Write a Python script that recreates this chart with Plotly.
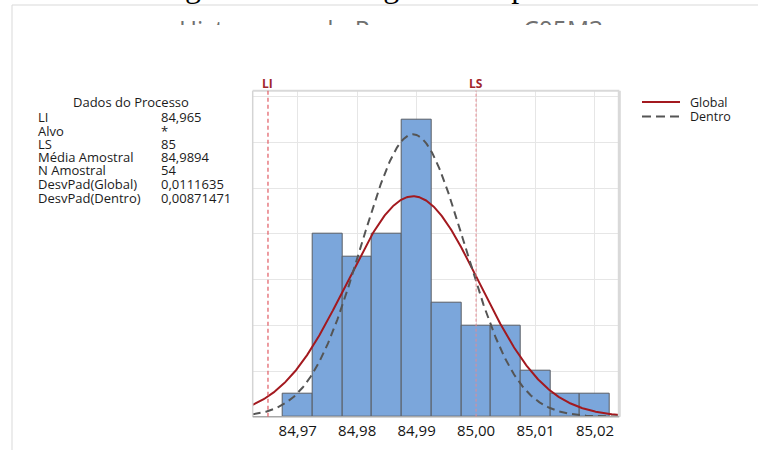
import numpy as np
import plotly.graph_objects as go

W, H = 758, 450

# Histogram of the process data (bin centres and counts)
bin_centers = [84.970, 84.975, 84.980, 84.985, 84.990, 84.995,
               85.000, 85.005, 85.010, 85.015, 85.020]
counts = [1, 8, 7, 8, 13, 5, 4, 4, 2, 1, 1]
bin_width = 0.005

# Specification limits and process statistics
li, ls = 84.965, 85.0
mean = 84.9894
sd_global = 0.0111635
sd_dentro = 0.00871471
n_samples = 54

stat_labels = ["LI", "Alvo", "LS", "Média Amostral", "N Amostral",
               "DesvPad(Global)", "DesvPad(Dentro)"]
stat_values = ["84,965", "*", "85", "84,9894", "54",
               "0,0111635", "0,00871471"]

x_ticks = [84.97, 84.98, 84.99, 85.00, 85.01, 85.02]
x_range = [84.96243, 85.02409]
y_max = 14.27

title_text = "Histograma do Processo para C05M3"
caption_text = "Figura 10 – Histograma do processo"

FONT = "Open Sans"
TEXT_COLOR = "#1b1b1b"
GLOBAL_COLOR = "#a3191f"
DENTRO_COLOR = "#555555"


def px(x):
    return x / W


def py(y):
    return 1 - y / H


def normal_curve(xs, mu, sigma):
    scale = n_samples * bin_width
    return scale * np.exp(-0.5 * ((xs - mu) / sigma) ** 2) / (sigma * np.sqrt(2 * np.pi))


xs = np.linspace(x_range[0], x_range[1], 500)

fig = go.Figure()

fig.add_trace(go.Bar(
    x=bin_centers, y=counts, width=bin_width,
    marker=dict(color="#7ba6db", line=dict(color="#595d64", width=1)),
    showlegend=False, hoverinfo="x+y",
))
fig.add_trace(go.Scatter(
    x=xs, y=normal_curve(xs, mean, sd_global), mode="lines", name="Global",
    line=dict(color=GLOBAL_COLOR, width=2), showlegend=False,
))
fig.add_trace(go.Scatter(
    x=xs, y=normal_curve(xs, mean, sd_dentro), mode="lines", name="Dentro",
    line=dict(color=DENTRO_COLOR, width=2, dash="8px,5px"), showlegend=False,
))

# Heading lines that run past the top and bottom of their strips
fig.add_trace(go.Scatter(
    x=[391], y=[33], mode="text", text=[title_text], xaxis="x2", yaxis="y2",
    textfont=dict(family=FONT, size=24.6, color="#707070"),
    textposition="middle center",
    cliponaxis=True, showlegend=False, hoverinfo="skip",
))
fig.add_trace(go.Scatter(
    x=[390.7], y=[-11], mode="text", text=[caption_text], xaxis="x3", yaxis="y3",
    textfont=dict(family="Liberation Serif", size=32, color="#000000"),
    textposition="middle center",
    cliponaxis=True, showlegend=False, hoverinfo="skip",
))

shapes = []
# Plot frame
shapes.append(dict(type="line", xref="x domain", yref="y domain", x0=0, x1=0, y0=0, y1=1,
                   line=dict(color="#d4d4d4", width=1.5)))
shapes.append(dict(type="line", xref="x domain", yref="y domain", x0=0, x1=1, y0=1, y1=1,
                   line=dict(color="#d9d9d9", width=2)))
shapes.append(dict(type="line", xref="x domain", yref="y domain", x0=1, x1=1, y0=0, y1=1,
                   line=dict(color="#d9d9d9", width=3)))
shapes.append(dict(type="line", xref="x domain", yref="y domain", x0=0, x1=1, y0=0, y1=0,
                   line=dict(color="#a8a8a8", width=1.5)))
# Specification limit lines
shapes.append(dict(type="line", xref="x", yref="y domain", x0=li, x1=li, y0=0, y1=1,
                   line=dict(color="#e05a63", width=1.2, dash="4px,3px")))
shapes.append(dict(type="line", xref="x", yref="y domain", x0=ls, x1=ls, y0=0, y1=1,
                   line=dict(color="#e58a90", width=1, dash="3px,2px")))
# Outer frame lines
shapes.append(dict(type="line", xref="paper", yref="paper", x0=px(12), x1=1, y0=py(5), y1=py(5),
                   line=dict(color="#d9d9d9", width=1)))
shapes.append(dict(type="line", xref="paper", yref="paper", x0=px(12), x1=px(12), y0=0, y1=py(5),
                   line=dict(color="#d9d9d9", width=1)))
# Legend samples
shapes.append(dict(type="line", xref="paper", yref="paper", x0=px(642), x1=px(680),
                   y0=py(102), y1=py(102), line=dict(color=GLOBAL_COLOR, width=2)))
shapes.append(dict(type="line", xref="paper", yref="paper", x0=px(642), x1=px(680),
                   y0=py(116.5), y1=py(116.5), line=dict(color=DENTRO_COLOR, width=2, dash="9px,5px")))

annotations = []
for lab, xv in (("LI", li), ("LS", ls)):
    annotations.append(dict(x=xv, y=py(84), xref="x", yref="paper", text="<b>%s</b>" % lab,
                            showarrow=False, xanchor="center", yanchor="middle",
                            font=dict(family=FONT, size=12, color="#a1262b")))

for name, yy in (("Global", 102), ("Dentro", 116.5)):
    annotations.append(dict(x=px(688), y=py(yy), xref="paper", yref="paper", text=name,
                            showarrow=False, xanchor="left", yanchor="middle",
                            font=dict(family=FONT, size=12.5, color=TEXT_COLOR)))

annotations.append(dict(x=px(130.5), y=py(102), xref="paper", yref="paper", text="Dados do Processo",
                        showarrow=False, xanchor="center", yanchor="middle",
                        font=dict(family=FONT, size=13, color=TEXT_COLOR)))
row_y = [117.5, 130.5, 143.5, 157, 170, 184, 197.5]
for lab, val, yy in zip(stat_labels, stat_values, row_y):
    annotations.append(dict(x=px(36), y=py(yy), xref="paper", yref="paper", text=lab,
                            showarrow=False, xanchor="left", yanchor="middle",
                            font=dict(family=FONT, size=13, color=TEXT_COLOR)))
    annotations.append(dict(x=px(159), y=py(yy), xref="paper", yref="paper", text=val,
                            showarrow=False, xanchor="left", yanchor="middle",
                            font=dict(family=FONT, size=13, color=TEXT_COLOR)))

fig.update_layout(
    width=W, height=H,
    margin=dict(l=0, r=0, t=0, b=0),
    paper_bgcolor="white", plot_bgcolor="white",
    separators=",.",
    bargap=0,
    xaxis=dict(domain=[px(252.7), px(619.3)], range=x_range, tickvals=x_ticks,
               tickformat=".2f", showgrid=True, gridcolor="#e6e6e6", gridwidth=1,
               zeroline=False, showline=False, ticks="", ticklabelstandoff=3,
               tickfont=dict(family=FONT, size=15, color="#151515")),
    yaxis=dict(domain=[py(416.7), py(90.7)], range=[0, y_max], dtick=2,
               showgrid=True, gridcolor="#e6e6e6", gridwidth=1, zeroline=False,
               showticklabels=False, showline=False, ticks=""),
    xaxis2=dict(domain=[0, 1], range=[0, W], visible=False, anchor="y2", fixedrange=True),
    yaxis2=dict(domain=[py(25), py(17)], range=[25, 17], visible=False, anchor="x2", fixedrange=True),
    xaxis3=dict(domain=[0, 1], range=[0, W], visible=False, anchor="y3", fixedrange=True),
    yaxis3=dict(domain=[py(5), 1], range=[5, 0], visible=False, anchor="x3", fixedrange=True),
    showlegend=False,
    shapes=shapes,
    annotations=annotations,
)

fig.write_html("out.html")
